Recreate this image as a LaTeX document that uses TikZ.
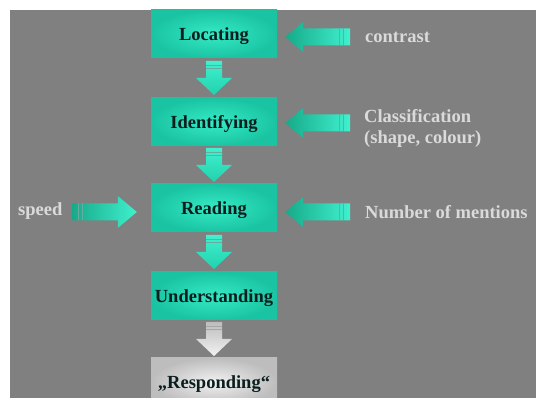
\documentclass[tikz,border=0pt]{standalone}
\usepackage{fontspec}
\setmainfont{Liberation Serif}
\usetikzlibrary{calc}

\definecolor{slide}{HTML}{808080}
\definecolor{tealhi}{HTML}{40F0CE}
\definecolor{tealmid}{HTML}{22D2AE}
\definecolor{tealdk}{HTML}{16AA8A}
\definecolor{boxin}{HTML}{36EAC6}
\definecolor{boxout}{HTML}{1AC4A2}
\definecolor{boxtext}{HTML}{0A1E1E}
\definecolor{labeltext}{HTML}{DADADA}
\definecolor{greyhi}{HTML}{F2F2F2}
\definecolor{greydk}{HTML}{BDBDBD}

\tikzset{
  stagebox/.style={rectangle, minimum width=126pt, minimum height=48pt, inner sep=0pt,
    inner color=boxin, outer color=boxout, text height=12.5pt, text depth=0pt,
    font=\fontsize{18.5}{21}\selectfont\bfseries, text=boxtext},
  finalbox/.style={stagebox, inner color=greyhi, outer color=greydk},
  sidelabel/.style={anchor=west, align=left, inner sep=0pt,
    font=\fontsize{18.5}{21}\selectfont\bfseries, text=labeltext},
  hshade/.style={left color=tealdk, right color=tealhi},
  vshade/.style={top color=tealhi, bottom color=tealmid},
  gshade/.style={top color=greydk, bottom color=greyhi},
  stripe/.style={draw=slide!60!tealhi, line width=0.7pt},
  gstripe/.style={draw=slide!70!white, line width=0.7pt},
  % block arrow pointing left, tip at the pic origin
  pics/leftblock/.style={code={
    \shade[hshade] (0,0) -- (18,-15) -- (18,-8.5) -- (65,-8.5) -- (65,8.5)
      -- (18,8.5) -- (18,15) -- cycle;
    \draw[stripe] (54,-8.5) -- (54,8.5);
    \draw[stripe] (58.5,-8.5) -- (58.5,8.5);
  }},
  % block arrow pointing right, tip at the pic origin
  pics/rightblock/.style={code={
    \shade[hshade] (0,0) -- (-19,-16) -- (-19,-8.5) -- (-65,-8.5) -- (-65,8.5)
      -- (-19,8.5) -- (-19,16) -- cycle;
    \draw[stripe] (-58.5,-8.5) -- (-58.5,8.5);
    \draw[stripe] (-54,-8.5) -- (-54,8.5);
  }},
  % block arrow pointing down, centred on the pic origin
  pics/downblock/.style={code={
    \shade[#1] (0,17) -- (-18,0) -- (-8,0) -- (-8,-17) -- (8,-17) -- (8,0)
      -- (18,0) -- cycle;
  }},
}

\begin{document}
\begin{tikzpicture}[x=1pt, y=-1pt]
  \useasboundingbox (0,0) rectangle (536,398);
  \clip (0,0) rectangle (536,398);
  \fill[white] (0,0) rectangle (536,398);
  \fill[slide] (10,10) rectangle (536,398);

  % the five stages
  \node[stagebox] (loc) at (214,34)  {Locating};
  \node[stagebox] (ide) at (214,122) {Identifying};
  \node[stagebox] (rea) at (214,208) {Reading};
  \node[stagebox] (und) at (214,296) {Understanding};
  \node[finalbox] (res) at (214,382) {„Responding“};

  % downward arrows between the stages
  \coordinate (d1) at ($(loc.south)!0.5!(ide.north)$);
  \coordinate (d2) at ($(ide.south)!0.5!(rea.north)$);
  \coordinate (d3) at ($(rea.south)!0.5!(und.north)$);
  \coordinate (d4) at ($(und.south)!0.5!(res.north)$);
  \pic at (d1) {downblock=vshade};
  \pic at (d2) {downblock=vshade};
  \pic at (d3) {downblock=vshade};
  \pic at (d4) {downblock=gshade};
  \foreach \c/\s in {d1/stripe, d2/stripe, d3/stripe, d4/gstripe} {
    \draw[\s] ([shift={(-8,-13)}]\c) -- ([shift={(8,-13)}]\c);
    \draw[\s] ([shift={(-8,-9.5)}]\c) -- ([shift={(8,-9.5)}]\c);
  }

  % influences on the stages
  \coordinate (tipc) at ([shift={(8,3)}]loc.east);
  \coordinate (tipk) at ([shift={(8,1)}]ide.east);
  \coordinate (tipn) at ([shift={(8,4)}]rea.east);
  \coordinate (tips) at ([shift={(-14,4)}]rea.west);
  \pic at (tipc) {leftblock};
  \pic at (tipk) {leftblock};
  \pic at (tipn) {leftblock};
  \pic at (tips) {rightblock};

  \node[sidelabel] (contrast) at (365,37) {contrast};
  \node[sidelabel] (classif) at (364,128) {Classification\\(shape, colour)};
  \node[sidelabel] (mentions) at (365,212) {Number of mentions};
  \node[sidelabel] (speed) at (18,211) {speed};
\end{tikzpicture}
\end{document}
